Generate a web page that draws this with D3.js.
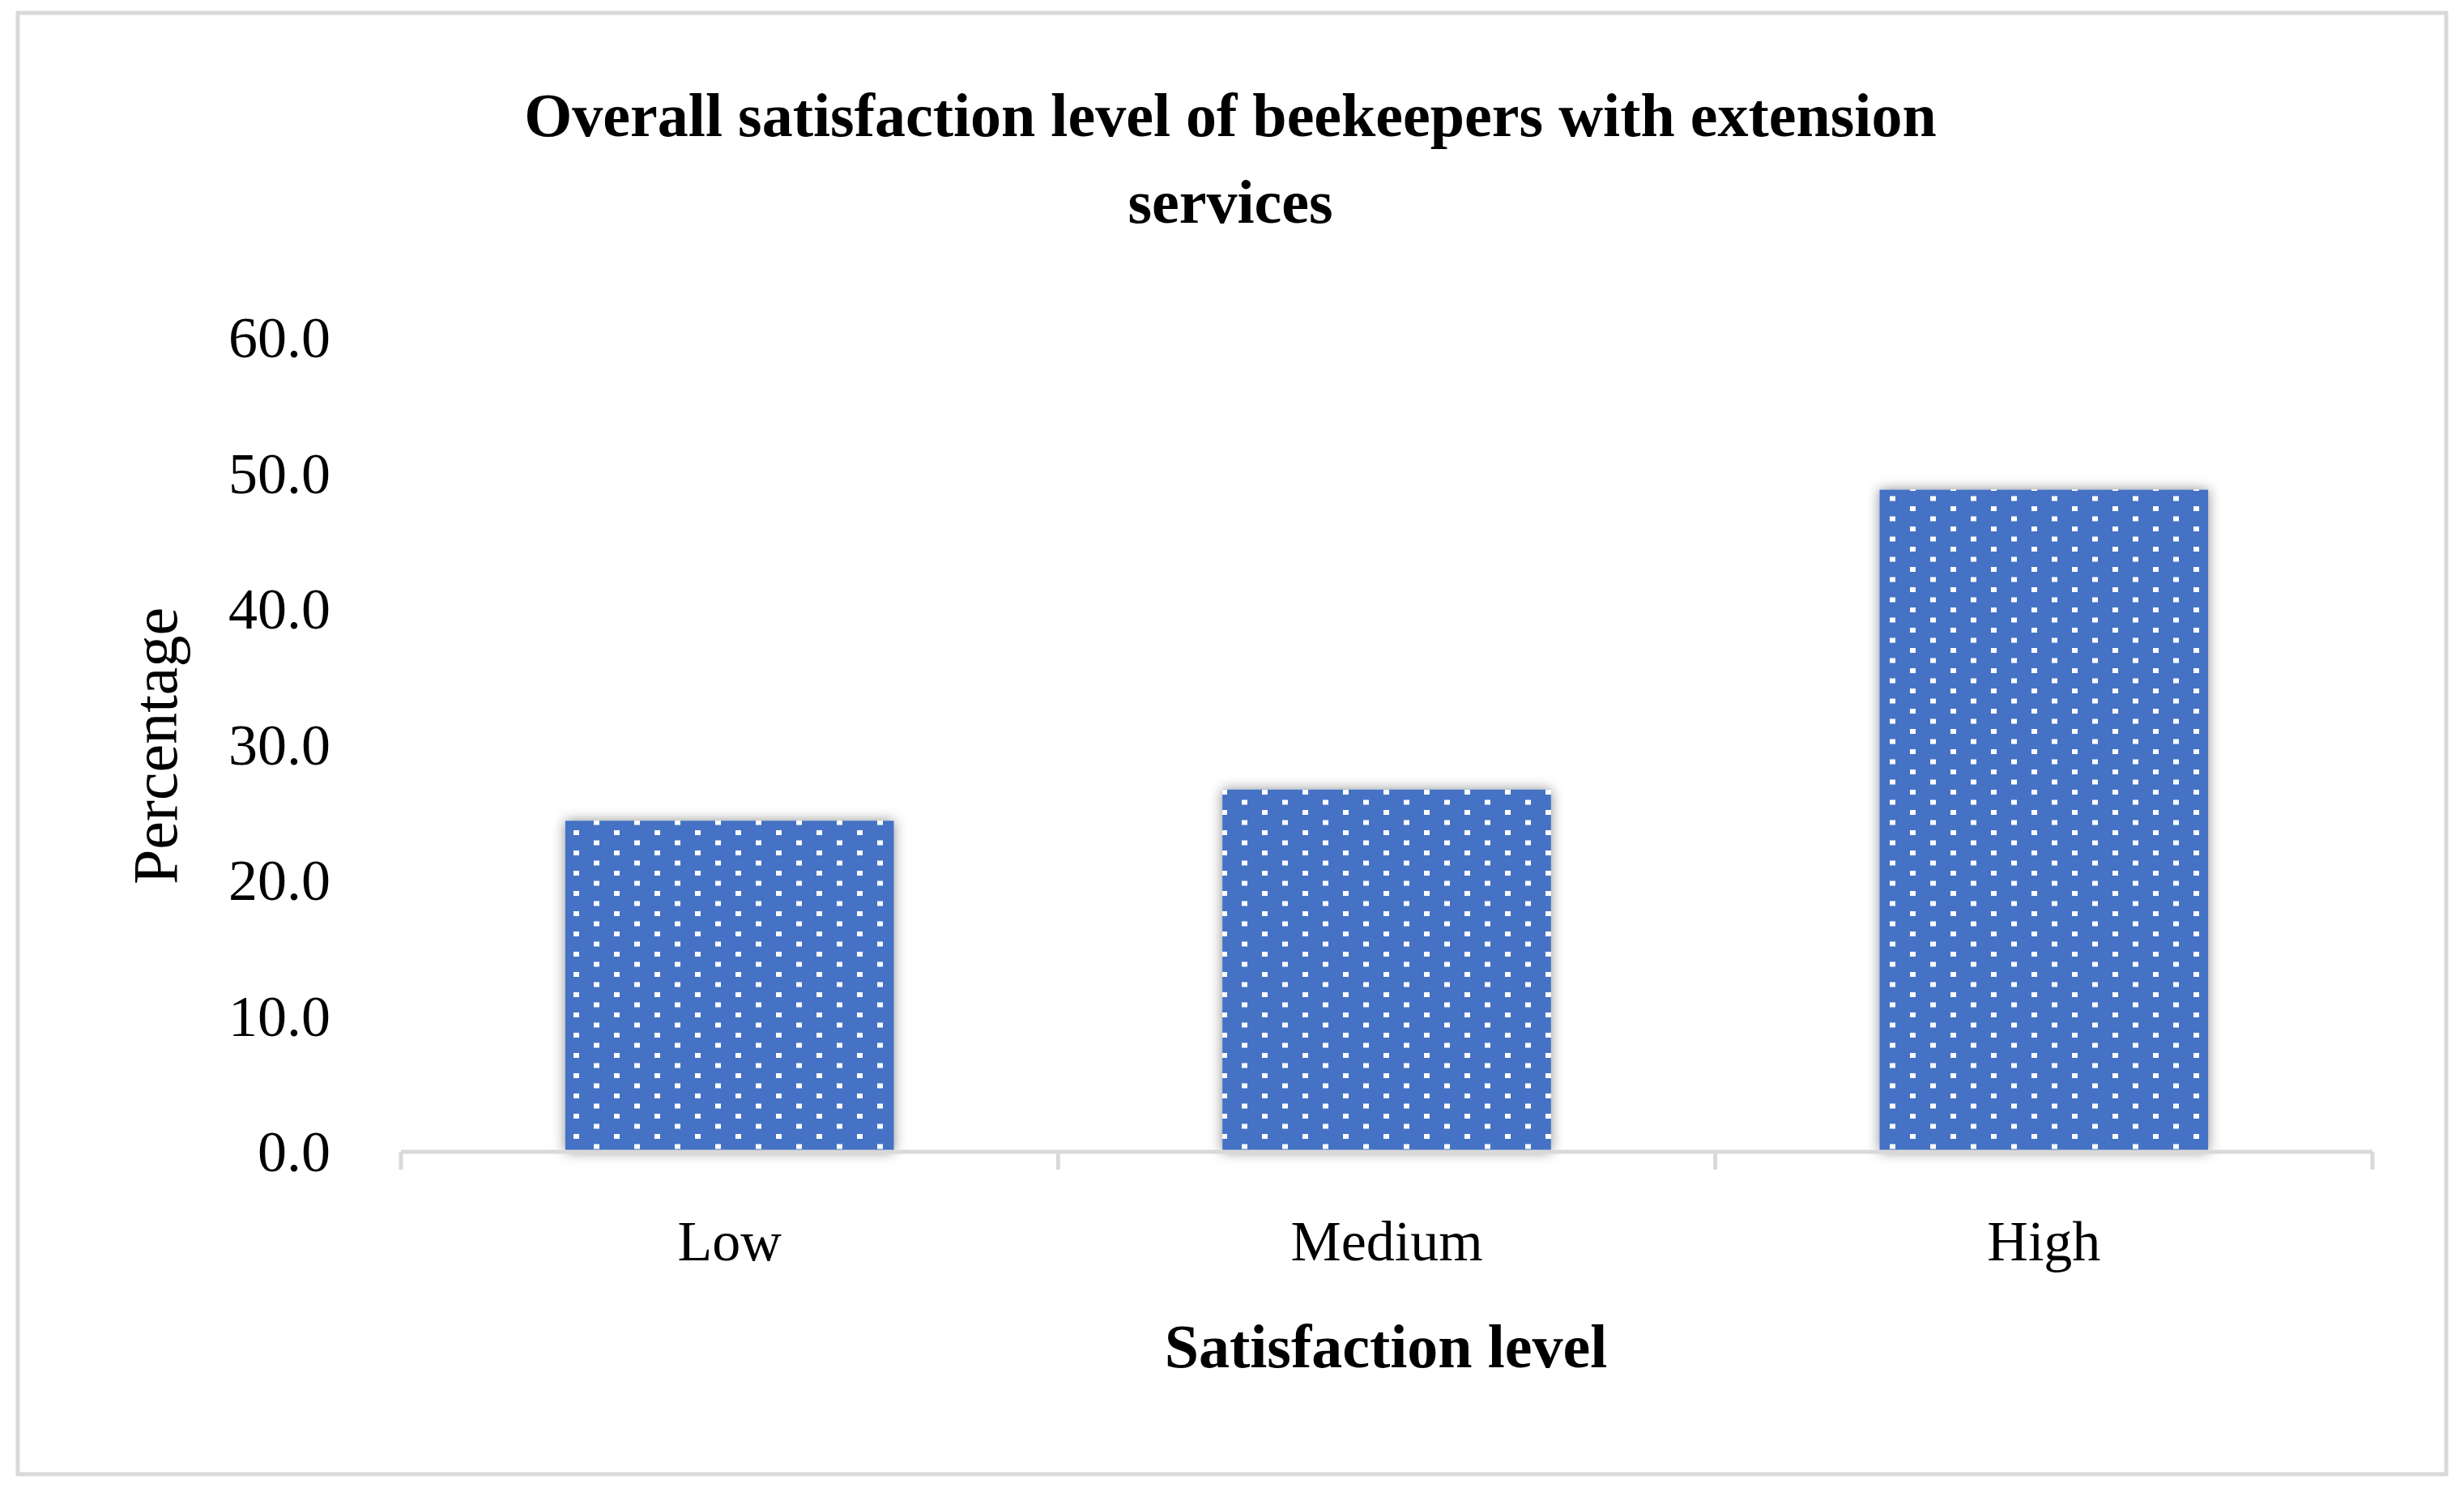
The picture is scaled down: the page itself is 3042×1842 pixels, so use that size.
<!DOCTYPE html>
<html>
<head>
<meta charset="utf-8">
<script src="https://cdn.jsdelivr.net/npm/d3@7"></script>
<style>
  body { margin: 0; background: #fff; }
  text { font-family: "Liberation Serif", "DejaVu Serif", serif; fill: #000; }
</style>
</head>
<body>
<svg id="chart" width="3042" height="1842"></svg>
<script>
var categories = ['Low', 'Medium', 'High'];
var values = [24.4, 26.7, 48.8];
var yTicks = [0, 10, 20, 30, 40, 50, 60];

var svg = d3.select('#chart');
var plotLeft = 495, plotRight = 2929, plotTop = 417, plotBottom = 1422;

// frame
svg.append('rect')
	.attr('x', 22).attr('y', 16).attr('width', 2998).attr('height', 1804)
	.attr('fill', '#fff').attr('stroke', '#d9d9d9').attr('stroke-width', 5);

var defs = svg.append('defs');
var pat = defs.append('pattern')
	.attr('id', 'dots').attr('patternUnits', 'userSpaceOnUse')
	.attr('width', 50).attr('height', 25);
pat.append('rect').attr('width', 50).attr('height', 25).attr('fill', '#4472c4');
pat.append('rect').attr('x', 8).attr('y', 0).attr('width', 7).attr('height', 6).attr('fill', '#fff');
pat.append('rect').attr('x', 33).attr('y', 12.5).attr('width', 7).attr('height', 6).attr('fill', '#fff');

var shadow = defs.append('filter').attr('id', 'shadow')
	.attr('x', '-20%').attr('y', '-20%').attr('width', '140%').attr('height', '140%');
shadow.append('feDropShadow').attr('dx', 0).attr('dy', 0).attr('stdDeviation', 8)
	.attr('flood-color', '#000').attr('flood-opacity', 0.45);

var x = d3.scaleBand().domain(categories).range([plotLeft, plotRight]).paddingInner(0.5).paddingOuter(0.25);
var y = d3.scaleLinear().domain([0, 60]).range([plotBottom, plotTop]);

svg.append('g')
	.selectAll('rect')
	.data(values)
	.enter().append('rect')
	.attr('x', function (d, i) { return x(categories[i]); })
	.attr('width', x.bandwidth())
	.attr('y', function (d) { return y(d); })
	.attr('height', function (d) { return plotBottom - y(d); })
	.attr('fill', 'url(#dots)')
	.attr('filter', 'url(#shadow)');

// x axis line and ticks
var step = (plotRight - plotLeft) / categories.length;
svg.append('line')
	.attr('x1', plotLeft).attr('x2', plotRight).attr('y1', plotBottom).attr('y2', plotBottom)
	.attr('stroke', '#d9d9d9').attr('stroke-width', 5);
svg.append('g').selectAll('line')
	.data(d3.range(categories.length + 1))
	.enter().append('line')
	.attr('x1', function (d) { return plotLeft + d * step; })
	.attr('x2', function (d) { return plotLeft + d * step; })
	.attr('y1', plotBottom).attr('y2', plotBottom + 22)
	.attr('stroke', '#d9d9d9').attr('stroke-width', 5);

svg.append('g').selectAll('text')
	.data(categories)
	.enter().append('text')
	.attr('x', function (d) { return x(d) + x.bandwidth() / 2; })
	.attr('y', 1556)
	.attr('text-anchor', 'middle')
	.attr('font-size', 70)
	.text(function (d) { return d; });

svg.append('g').selectAll('text')
	.data(yTicks)
	.enter().append('text')
	.attr('x', 408)
	.attr('y', function (d) { return y(d) + 24; })
	.attr('text-anchor', 'end')
	.attr('font-size', 72)
	.text(function (d) { return d3.format('.1f')(d); });

svg.append('text')
	.attr('transform', 'translate(218,921) rotate(-90)')
	.attr('text-anchor', 'middle')
	.attr('font-size', 78)
	.text('Percentage');

svg.append('text')
	.attr('x', 1711).attr('y', 1688)
	.attr('text-anchor', 'middle')
	.attr('font-size', 76).attr('font-weight', 'bold')
	.text('Satisfaction level');

var title = svg.append('text')
	.attr('text-anchor', 'middle')
	.attr('font-size', 76).attr('font-weight', 'bold');
title.append('tspan').attr('x', 1519).attr('y', 168).text('Overall satisfaction level of beekeepers with extension');
title.append('tspan').attr('x', 1519).attr('y', 275).text('services');
</script>
</body>
</html>
